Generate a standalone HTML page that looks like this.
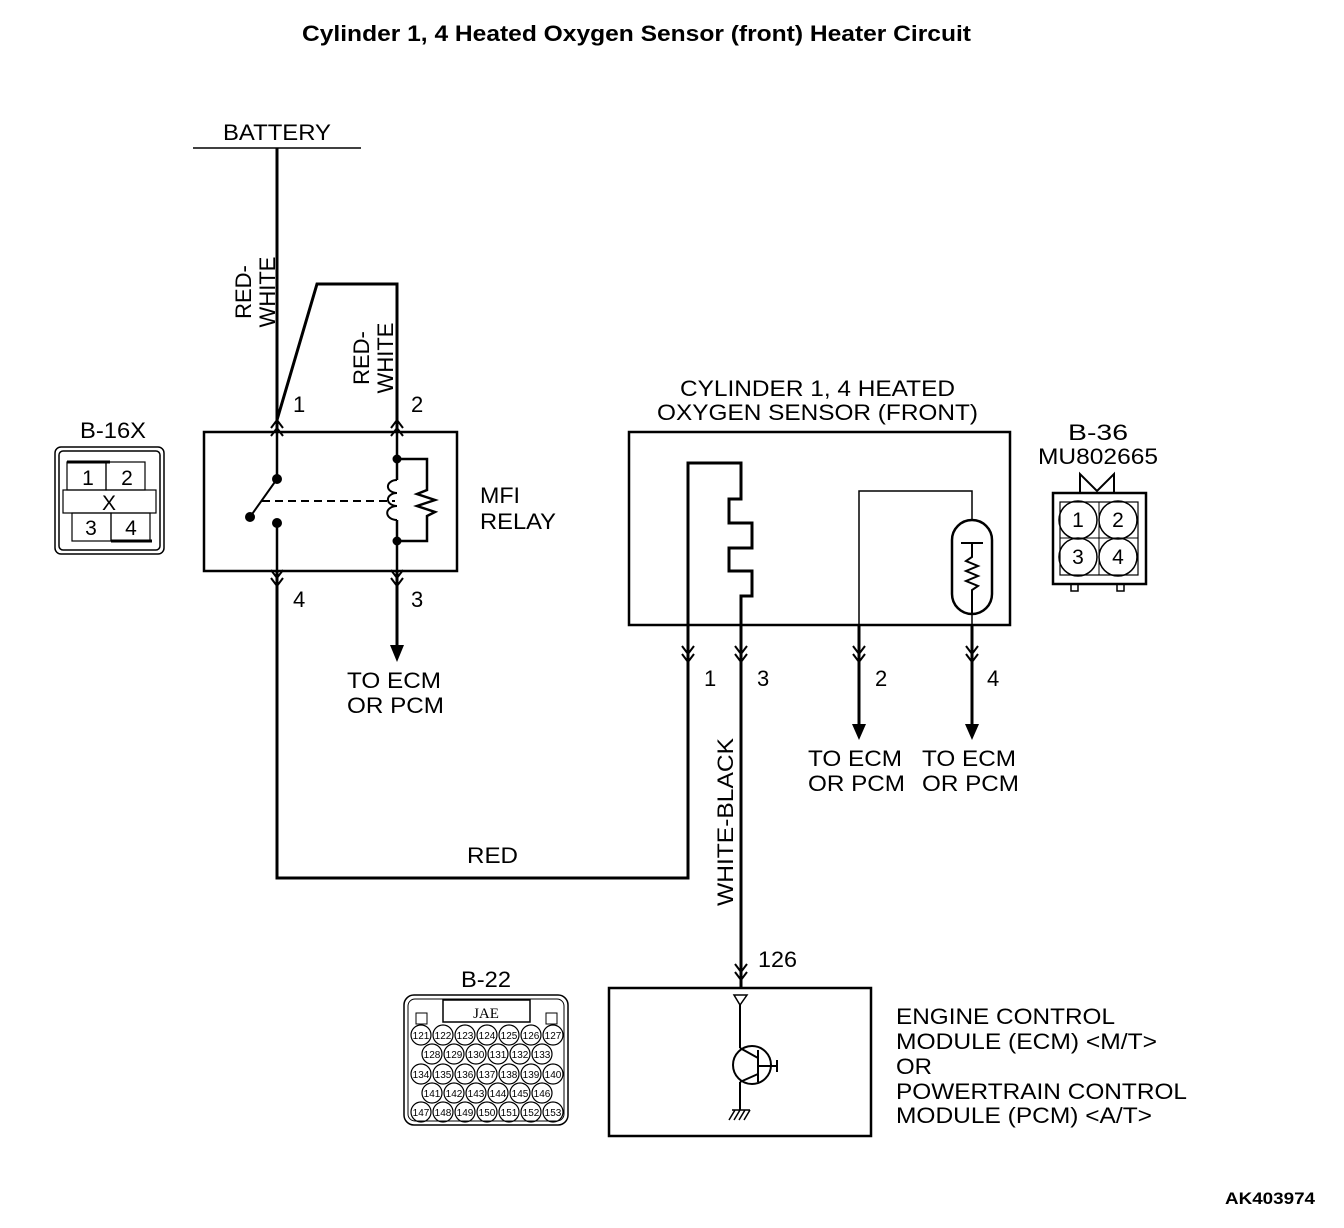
<!DOCTYPE html>
<html><head><style>body{margin:0;background:#fff}svg{display:block}</style></head><body>
<svg width="1344" height="1228" viewBox="0 0 1344 1228" xmlns="http://www.w3.org/2000/svg" font-family="Liberation Sans, Arial, sans-serif" fill="none" stroke="#000">
<defs>
<g id="up"><path d="M-6,8 L0,0 L6,8 M-6,16 L0,8 L6,16" stroke-width="2"/></g>
<g id="dn"><path d="M-6,-8 L0,0 L6,-8 M-6,-16 L0,-8 L6,-16" stroke-width="2"/></g>
</defs>
<text x="302" y="41" font-size="22" font-weight="bold" fill="#000" stroke="none" textLength="669" lengthAdjust="spacingAndGlyphs">Cylinder 1, 4 Heated Oxygen Sensor (front) Heater Circuit</text>
<!-- battery -->
<text x="223" y="140" font-size="22" fill="#000" stroke="none" textLength="108" lengthAdjust="spacingAndGlyphs">BATTERY</text>
<line x1="193" y1="148" x2="361" y2="148" stroke-width="1.5"/>
<path d="M277,148 V878 H688 V463 H741 V499 H729 V523 H752 V548 H729 V571 H752 V596 H741 V988" stroke-width="3"/>
<path d="M277,420 L317,284 H397 V650" stroke-width="3"/>
<polygon points="390,645 404,645 397,662" fill="#000" stroke="none"/>
<text transform="translate(258,292) rotate(-90)" font-size="22" fill="#000" stroke="none" text-anchor="middle"><tspan x="0" y="-7">RED-</tspan><tspan x="0" y="17">WHITE</tspan></text>
<text transform="translate(376,358) rotate(-90)" font-size="22" fill="#000" stroke="none" text-anchor="middle"><tspan x="0" y="-7">RED-</tspan><tspan x="0" y="17">WHITE</tspan></text>
<!-- relay -->
<rect x="204" y="432" width="253" height="139" stroke-width="2.5" fill="#fff"/>
<path d="M277,432 V479 M277,523 V571 M397,432 V480 M397,520 V571" stroke-width="2.5"/>
<path d="M397,459 H427 V490 L417,494 L435,500 L417,506 L435,512 L427,516 V541 H397" stroke-width="2.5"/>
<path d="M397,480 a7,5 0 0 0 0,13 a7,5 0 0 0 0,13 a7,5 0 0 0 0,14" stroke-width="2"/>
<circle cx="277" cy="479" r="4.5" fill="#000"/><circle cx="277" cy="523" r="4.5" fill="#000"/>
<circle cx="250" cy="517" r="4.5" fill="#000"/><circle cx="397" cy="459" r="4" fill="#000"/><circle cx="397" cy="541" r="4" fill="#000"/>
<line x1="250" y1="517" x2="277" y2="479" stroke-width="2"/>
<line x1="262" y1="501" x2="395" y2="501" stroke-width="2" stroke-dasharray="8,5"/>
<use href="#up" x="277" y="420"/><use href="#up" x="397" y="420"/><use href="#dn" x="277" y="586"/><use href="#dn" x="397" y="586"/>
<g font-size="22" fill="#000" stroke="none" lengthAdjust="spacingAndGlyphs">
<text x="293" y="412">1</text><text x="411" y="412">2</text><text x="293" y="607">4</text><text x="411" y="607">3</text>
<text x="480" y="503" textLength="40" lengthAdjust="spacingAndGlyphs">MFI</text><text x="480" y="529" textLength="76" lengthAdjust="spacingAndGlyphs">RELAY</text>
<text x="347" y="688" textLength="94" lengthAdjust="spacingAndGlyphs">TO ECM</text><text x="347" y="713" textLength="97" lengthAdjust="spacingAndGlyphs">OR PCM</text>
<text x="80" y="438" textLength="66" lengthAdjust="spacingAndGlyphs">B-16X</text>
<text x="680" y="396" textLength="275" lengthAdjust="spacingAndGlyphs">CYLINDER 1, 4 HEATED</text>
<text x="657" y="420" textLength="321" lengthAdjust="spacingAndGlyphs">OXYGEN SENSOR (FRONT)</text>
<text x="1068" y="440" textLength="60" lengthAdjust="spacingAndGlyphs">B-36</text>
<text x="1038" y="464" textLength="120" lengthAdjust="spacingAndGlyphs">MU802665</text>
<text x="704" y="686">1</text><text x="757" y="686">3</text><text x="875" y="686">2</text><text x="987" y="686">4</text>
<text x="808" y="766" textLength="94" lengthAdjust="spacingAndGlyphs">TO ECM</text><text x="808" y="791" textLength="97" lengthAdjust="spacingAndGlyphs">OR PCM</text>
<text x="922" y="766" textLength="94" lengthAdjust="spacingAndGlyphs">TO ECM</text><text x="922" y="791" textLength="97" lengthAdjust="spacingAndGlyphs">OR PCM</text>
<text x="467" y="863" textLength="51" lengthAdjust="spacingAndGlyphs">RED</text>
<text x="758" y="967" textLength="39" lengthAdjust="spacingAndGlyphs">126</text>
<text x="461" y="987" textLength="50" lengthAdjust="spacingAndGlyphs">B-22</text>
<text x="896" y="1024" textLength="219" lengthAdjust="spacingAndGlyphs">ENGINE CONTROL</text><text x="896" y="1049" textLength="261" lengthAdjust="spacingAndGlyphs">MODULE (ECM) &lt;M/T&gt;</text><text x="896" y="1074" textLength="36" lengthAdjust="spacingAndGlyphs">OR</text><text x="896" y="1099" textLength="291" lengthAdjust="spacingAndGlyphs">POWERTRAIN CONTROL</text><text x="896" y="1123" textLength="256" lengthAdjust="spacingAndGlyphs">MODULE (PCM) &lt;A/T&gt;</text>
<text x="1225" y="1204" font-size="17" font-weight="bold" textLength="90" lengthAdjust="spacingAndGlyphs">AK403974</text>
<text transform="translate(733,822) rotate(-90)" x="-84" textLength="168" lengthAdjust="spacingAndGlyphs">WHITE-BLACK</text>
</g>
<!-- B-16X -->
<rect x="55" y="447" width="109" height="107" rx="6" stroke-width="1.5"/>
<rect x="59" y="451" width="101" height="99" rx="4" stroke-width="1.5"/>
<g stroke-width="1.2"><rect x="67" y="462" width="39" height="28"/><rect x="106" y="462" width="39" height="28"/><rect x="63" y="490" width="93" height="23"/><rect x="72" y="513" width="39" height="28"/><rect x="111" y="513" width="39" height="28"/></g>
<line x1="67" y1="462" x2="110" y2="462" stroke-width="3"/><line x1="111" y1="541" x2="152" y2="541" stroke-width="3"/>
<g font-size="21" fill="#000" stroke="none" text-anchor="middle"><text x="88" y="485">1</text><text x="127" y="485">2</text><text x="109" y="510">X</text><text x="91" y="535">3</text><text x="131" y="535">4</text></g>
<!-- sensor -->
<rect x="629" y="432" width="381" height="193" stroke-width="2.5"/>
<path d="M859,730 V491 H972 V520 M972,614 V730" stroke-width="1.5"/>
<path d="M859,626 V730 M972,626 V730" stroke-width="3"/>
<rect x="952" y="520" width="40" height="94" rx="20" stroke-width="2.5"/>
<path d="M961,543 H983 M972,543 V557 L966,561 L978,566 L966,571 L978,576 L966,581 L978,586 L972,590 V614" stroke-width="2"/>
<polygon points="852,724 866,724 859,740" fill="#000" stroke="none"/>
<polygon points="965,724 979,724 972,740" fill="#000" stroke="none"/>
<use href="#dn" x="688" y="662"/><use href="#dn" x="741" y="662"/><use href="#dn" x="859" y="662"/><use href="#dn" x="972" y="662"/>
<!-- B-36 -->
<path d="M1080,493 V474 L1097,491 L1114,474 V493" stroke-width="2"/>
<rect x="1053" y="493" width="93" height="91" stroke-width="2.5"/>
<rect x="1060" y="502" width="78" height="73" stroke-width="1.2"/>
<path d="M1099,502 V575 M1060,538 H1138" stroke-width="1"/>
<g stroke-width="1.5"><circle cx="1078" cy="520" r="19"/><circle cx="1118" cy="520" r="19"/><circle cx="1078" cy="557" r="19"/><circle cx="1118" cy="557" r="19"/></g>
<g font-size="21" fill="#000" stroke="none" text-anchor="middle"><text x="1078" y="527">1</text><text x="1118" y="527">2</text><text x="1078" y="564">3</text><text x="1118" y="564">4</text></g>
<rect x="1071" y="584" width="7" height="7" stroke-width="1.5"/><rect x="1117" y="584" width="7" height="7" stroke-width="1.5"/>
<!-- ECM -->
<use href="#dn" x="741" y="980"/>
<rect x="609" y="988" width="262" height="148" stroke-width="2.5"/>
<polygon points="734,995 747,995 740,1005" stroke-width="1.5"/>
<path d="M740,1005 V1048 M740,1082 V1110 M758,1050 V1082 M758,1066 H777 M777,1060 V1072 M740,1048 L758,1058 M740,1082 L758,1074" stroke-width="2"/>
<circle cx="752" cy="1065" r="19" stroke-width="2"/>
<path d="M732,1110 H750 M735,1110 L729,1120 M740,1110 L734,1120 M745,1110 L739,1120 M750,1110 L744,1120" stroke-width="1.5"/>
<!-- B-22 -->
<rect x="404" y="995" width="164" height="130" rx="10" stroke-width="1.5"/>
<rect x="408" y="999" width="156" height="122" rx="7" stroke-width="1"/>
<rect x="443" y="1000" width="87" height="22" stroke-width="1.5"/>
<text x="486" y="1018" font-size="15" font-family="Liberation Serif, serif" fill="#000" stroke="none" text-anchor="middle">JAE</text>
<rect x="416" y="1013" width="11" height="11" stroke-width="1"/><rect x="546" y="1013" width="11" height="11" stroke-width="1"/>
<g stroke-width="1.2">
<circle cx="421" cy="1035" r="10"/><circle cx="443" cy="1035" r="10"/><circle cx="465" cy="1035" r="10"/><circle cx="487" cy="1035" r="10"/><circle cx="509" cy="1035" r="10"/><circle cx="531" cy="1035" r="10"/><circle cx="553" cy="1035" r="10"/>
<circle cx="432" cy="1054" r="10"/><circle cx="454" cy="1054" r="10"/><circle cx="476" cy="1054" r="10"/><circle cx="498" cy="1054" r="10"/><circle cx="520" cy="1054" r="10"/><circle cx="542" cy="1054" r="10"/>
<circle cx="421" cy="1074" r="10"/><circle cx="443" cy="1074" r="10"/><circle cx="465" cy="1074" r="10"/><circle cx="487" cy="1074" r="10"/><circle cx="509" cy="1074" r="10"/><circle cx="531" cy="1074" r="10"/><circle cx="553" cy="1074" r="10"/>
<circle cx="432" cy="1093" r="10"/><circle cx="454" cy="1093" r="10"/><circle cx="476" cy="1093" r="10"/><circle cx="498" cy="1093" r="10"/><circle cx="520" cy="1093" r="10"/><circle cx="542" cy="1093" r="10"/>
<circle cx="421" cy="1112" r="10"/><circle cx="443" cy="1112" r="10"/><circle cx="465" cy="1112" r="10"/><circle cx="487" cy="1112" r="10"/><circle cx="509" cy="1112" r="10"/><circle cx="531" cy="1112" r="10"/><circle cx="553" cy="1112" r="10"/>
</g>
<g font-size="10" fill="#000" stroke="none" text-anchor="middle">
<text x="421" y="1039">121</text><text x="443" y="1039">122</text><text x="465" y="1039">123</text><text x="487" y="1039">124</text><text x="509" y="1039">125</text><text x="531" y="1039">126</text><text x="553" y="1039">127</text>
<text x="432" y="1058">128</text><text x="454" y="1058">129</text><text x="476" y="1058">130</text><text x="498" y="1058">131</text><text x="520" y="1058">132</text><text x="542" y="1058">133</text>
<text x="421" y="1078">134</text><text x="443" y="1078">135</text><text x="465" y="1078">136</text><text x="487" y="1078">137</text><text x="509" y="1078">138</text><text x="531" y="1078">139</text><text x="553" y="1078">140</text>
<text x="432" y="1097">141</text><text x="454" y="1097">142</text><text x="476" y="1097">143</text><text x="498" y="1097">144</text><text x="520" y="1097">145</text><text x="542" y="1097">146</text>
<text x="421" y="1116">147</text><text x="443" y="1116">148</text><text x="465" y="1116">149</text><text x="487" y="1116">150</text><text x="509" y="1116">151</text><text x="531" y="1116">152</text><text x="553" y="1116">153</text>
</g>
</svg>
</body></html>
